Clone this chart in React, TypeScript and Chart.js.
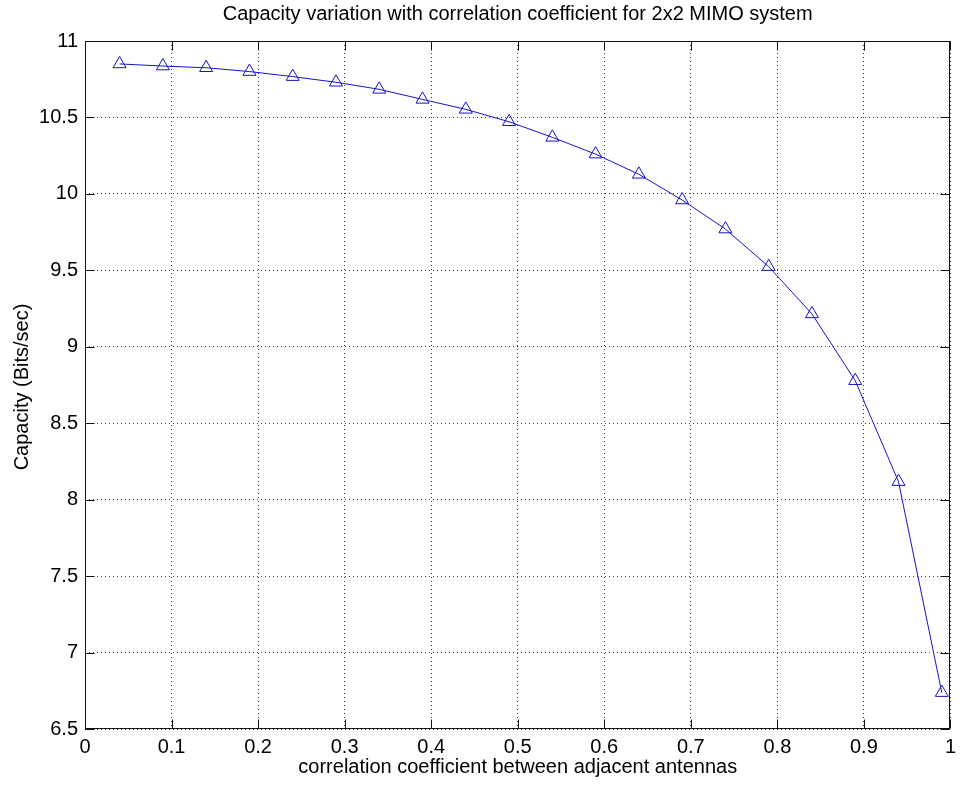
import React, { useEffect, useRef } from "react";
import { Chart, registerables } from "chart.js";

Chart.register(...registerables);

// ---- data ----
const correlation = [0.04, 0.09, 0.14, 0.19, 0.24, 0.29, 0.34, 0.39, 0.44, 0.49, 0.54, 0.59, 0.64, 0.69, 0.74, 0.79, 0.84, 0.89, 0.94, 0.99];
const capacity = [10.85, 10.836, 10.825, 10.80, 10.767, 10.73, 10.684, 10.618, 10.553, 10.472, 10.37, 10.26, 10.128, 9.96, 9.77, 9.524, 9.215, 8.778, 8.118, 6.738];
const xTickValues = [0, 0.1, 0.2, 0.3, 0.4, 0.5, 0.6, 0.7, 0.8, 0.9, 1];
const yTickValues = [6.5, 7, 7.5, 8, 8.5, 9, 9.5, 10, 10.5, 11];

const TITLE = "Capacity variation with correlation coefficient for 2x2 MIMO system";
const X_TITLE = "correlation coefficient between adjacent antennas";
const Y_TITLE = "Capacity (Bits/sec)";

const FONT_FAMILY = "'Liberation Sans', Arial, Helvetica, sans-serif";
const LINE_COLOR = "rgb(20,20,200)";

const fmt = (v: number) => {
  const s = Number(v).toFixed(1);
  return s.endsWith(".0") ? s.slice(0, -2) : s;
};

const framePlugin = {
  id: "matlabFrame",
  afterDraw(chart: any) {
    const { ctx, chartArea } = chart;
    const { left, right, top, bottom } = chartArea;
    const xs = chart.scales.x;
    const ys = chart.scales.y;
    ctx.save();
    ctx.strokeStyle = "#111";
    ctx.lineWidth = 1;
    ctx.setLineDash([]);
    const L = Math.round(left) + 0.5;
    const R = Math.round(right) - 0.5;
    const T = Math.round(top) + 0.5;
    const B = Math.round(bottom) - 0.5;
    ctx.strokeRect(L, T, R - L, B - T);
    const tl = 9;
    ctx.beginPath();
    xTickValues.forEach((v) => {
      const px = Math.round(xs.getPixelForValue(v)) + 0.5;
      ctx.moveTo(px, B);
      ctx.lineTo(px, B - tl);
      ctx.moveTo(px, T);
      ctx.lineTo(px, T + tl);
    });
    yTickValues.forEach((v) => {
      const py = Math.round(ys.getPixelForValue(v)) + 0.5;
      ctx.moveTo(L, py);
      ctx.lineTo(L + tl, py);
      ctx.moveTo(R, py);
      ctx.lineTo(R - tl, py);
    });
    ctx.stroke();

    // texts
    ctx.fillStyle = "#000";
    ctx.font = `20px ${FONT_FAMILY}`;
    ctx.textAlign = "center";
    ctx.textBaseline = "alphabetic";
    const cx = (left + right) / 2;
    ctx.fillText(TITLE, cx, 20);
    ctx.fillText(X_TITLE, cx, 773);
    ctx.translate(28, (top + bottom) / 2 + 2);
    ctx.rotate(-Math.PI / 2);
    ctx.fillText(Y_TITLE, 0, 0);
    ctx.restore();
  },
};

export default function App() {
  const canvasRef = useRef<HTMLCanvasElement | null>(null);

  useEffect(() => {
    const canvas = canvasRef.current;
    if (!canvas) return;
    const chart = new Chart(canvas, {
      type: "line",
      data: {
        datasets: [
          {
            data: correlation.map((x, i) => ({ x, y: capacity[i] })),
            borderColor: LINE_COLOR,
            borderWidth: 1,
            backgroundColor: "transparent",
            pointStyle: "triangle",
            pointRadius: 7.5,
            pointBorderColor: LINE_COLOR,
            pointBackgroundColor: "transparent",
            pointBorderWidth: 1,
            tension: 0,
            fill: false,
          },
        ],
      },
      options: {
        animation: false,
        responsive: false,
        devicePixelRatio: 1,
        layout: { padding: { left: 0, right: 6, top: 41, bottom: 0 } },
        plugins: {
          legend: { display: false },
          title: { display: false },
          tooltip: { enabled: false },
        },
        scales: {
          x: {
            type: "linear",
            min: 0,
            max: 1,
            afterBuildTicks: (scale: any) => {
              scale.ticks = xTickValues.map((value) => ({ value }));
            },
            afterFit: (scale: any) => {
              scale.height = 56;
            },
            grid: { color: "rgba(0,0,0,0.75)", drawTicks: false, lineWidth: 1 },
            border: { display: false, dash: [1, 3] },
            ticks: {
              color: "#000",
              font: { family: FONT_FAMILY, size: 20 },
              padding: 6,
              maxRotation: 0,
              autoSkip: false,
              callback: (v: any) => fmt(Number(v)),
            },
          },
          y: {
            type: "linear",
            min: 6.5,
            max: 11,
            afterBuildTicks: (scale: any) => {
              scale.ticks = yTickValues.map((value) => ({ value }));
            },
            afterFit: (scale: any) => {
              scale.width = 85;
            },
            grid: { color: "rgba(0,0,0,0.75)", drawTicks: false, lineWidth: 1 },
            border: { display: false, dash: [1, 3] },
            ticks: {
              color: "#000",
              font: { family: FONT_FAMILY, size: 20 },
              padding: 7,
              autoSkip: false,
              callback: (v: any) => fmt(Number(v)),
            },
          },
        },
      },
      plugins: [framePlugin],
    } as any);
    return () => chart.destroy();
  }, []);

  return (
    <div style={{ position: "fixed", left: 0, top: 0, width: 962, height: 785, background: "#fff" }}>
      <canvas ref={canvasRef} width={962} height={785} style={{ display: "block", width: 962, height: 785 }} />
    </div>
  );
}
